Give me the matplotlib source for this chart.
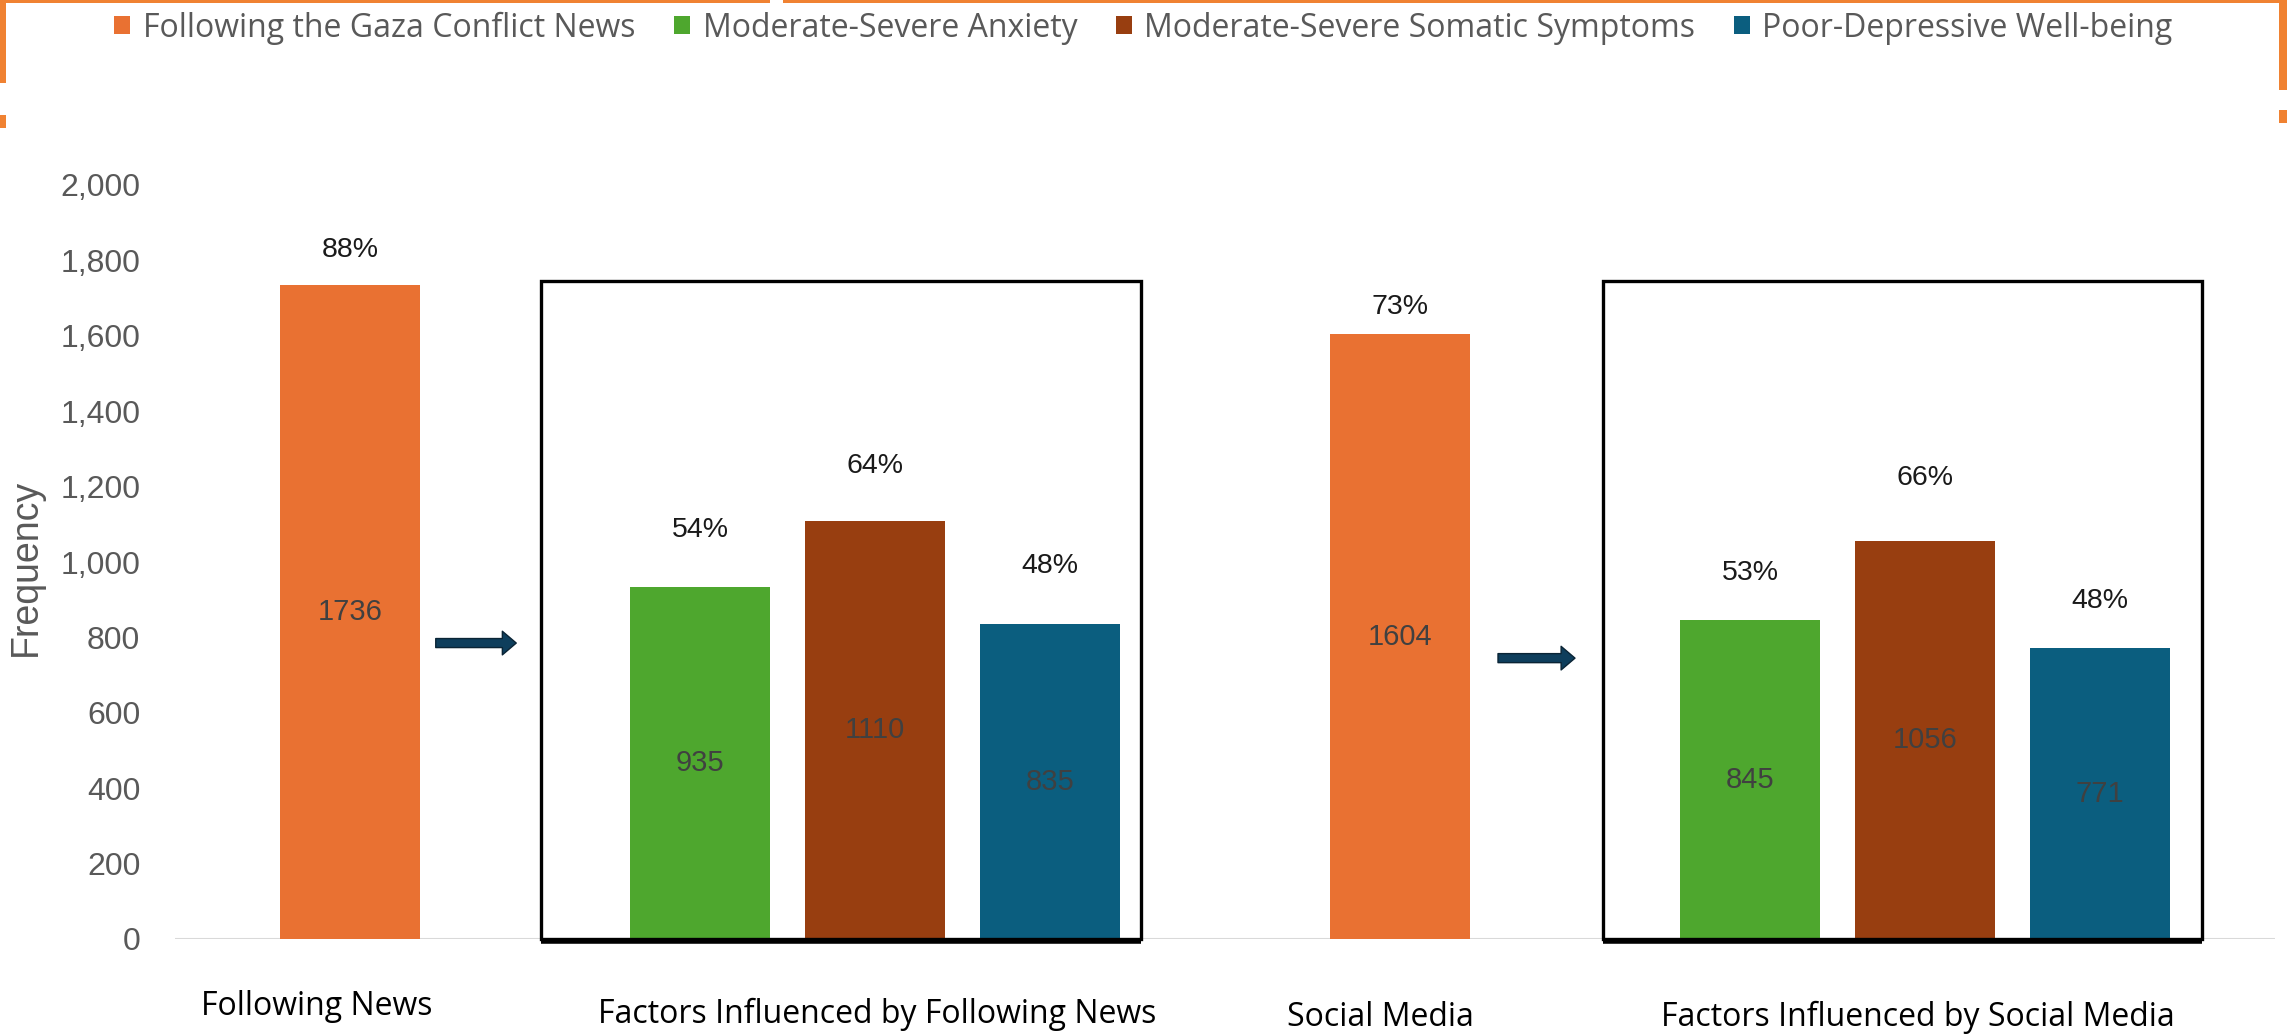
import matplotlib
matplotlib.use("Agg")
import matplotlib.pyplot as plt
from matplotlib.patches import Patch, Rectangle

# ---- data ----
categories = ["Following News", "Factors Influenced by Following News",
              "Social Media", "Factors Influenced by Social Media"]
series = ["Following the Gaza Conflict News", "Moderate-Severe Anxiety",
          "Moderate-Severe Somatic Symptoms", "Poor-Depressive Well-being"]
news_counts = [1736, 935, 1110, 835]
news_pct = ["88%", "54%", "64%", "48%"]
social_counts = [1604, 845, 1056, 771]
social_pct = ["73%", "53%", "66%", "48%"]
y_ticks = [0, 200, 400, 600, 800, 1000, 1200, 1400, 1600, 1800, 2000]

# ---- styling / layout ----
colors = ["#E97132", "#4EA72E", "#983E10", "#0B5E7F"]
group_start = [0, 6]            # slot where each source group begins
slot_in_group = [0, 2, 3, 4]    # slot of each series inside a group
pct_gap_pt = [[25, 41, 39, 42], [19.5, 34, 45, 34]]
box_span = [(1.09, 4.52), (7.16, 10.58)]
box_top = 1745
arrow_spec = [((0.49, 0.95), 785), ((6.56, 7.0), 745)]
cat_x = [-0.19, 3.01, 5.89, 8.96]
cat_y = [-0.09, -0.1, -0.104, -0.104]

SANS = ["Liberation Sans", "DejaVu Sans"]
HUM = ["Open Sans", "DejaVu Sans"]
GRAY = "#595959"

W, H, DPI = 2287, 1034, 100
fig = plt.figure(figsize=(W / DPI, H / DPI), dpi=DPI)
fig.patch.set_facecolor("white")

ax_left, ax_right, ax_bottom, ax_top = 175, 2275, 939, 185
ax = fig.add_axes([ax_left / W, (H - ax_bottom) / H,
                   (ax_right - ax_left) / W, (ax_bottom - ax_top) / H])
ax.set_xlim(-1, 11)
ax.set_ylim(0, 2000)

for counts, pcts, start, gaps in zip([news_counts, social_counts],
                                     [news_pct, social_pct],
                                     group_start, pct_gap_pt):
    xs = [start + s for s in slot_in_group]
    bars = ax.bar(xs, counts, width=0.8, color=colors, zorder=2)
    for bar, val, pct, gap in zip(bars, counts, pcts, gaps):
        cx = bar.get_x() + bar.get_width() / 2
        ax.text(cx, val / 2, f"{val}", ha="center", va="center",
                fontsize=21, color="#404040", family=SANS, zorder=3)
        ax.annotate(pct, xy=(cx, val), xytext=(0, gap),
                    textcoords="offset points", ha="center", va="center",
                    fontsize=20.5, color="#1a1a1a", family=SANS)

# baseline
ax.axhline(0, color="#D9D9D9", lw=2.2, zorder=1)

# frames around the influenced-factor groups
for (x0, x1) in box_span:
    ax.add_patch(Rectangle((x0, 0), x1 - x0, box_top, fill=False,
                           ec="black", lw=2.4, zorder=4, clip_on=False))
    ax.plot([x0, x1], [-6, -6], color="black", lw=4, zorder=4,
            clip_on=False, solid_capstyle="butt")

# arrows from source bar to influenced factors
for (xa, xb), yv in arrow_spec:
    ax.annotate("", xy=(xb, yv), xytext=(xa, yv),
                arrowprops=dict(arrowstyle="simple,head_length=10,head_width=17,tail_width=6.5",
                                mutation_scale=1, fc="#0E3E5C", ec="#0A2435",
                                lw=1.0, shrinkA=0, shrinkB=0))

# axes styling
for sp in ax.spines.values():
    sp.set_visible(False)
ax.set_xticks([])
ax.set_yticks(y_ticks)
ax.set_yticklabels([f"{v:,}" for v in y_ticks], family=SANS, fontsize=23,
                   color=GRAY)
ax.tick_params(axis="y", length=0, pad=25)
ax.set_ylabel("Frequency", family=SANS, fontsize=27, color=GRAY)
ax.yaxis.set_label_coords(-0.0624, 0.493)

# category labels under the chart
for label, x, y in zip(categories, cat_x, cat_y):
    ax.text(x, y, label, transform=ax.get_xaxis_transform(), ha="center",
            va="center", fontsize=23, color="black", family=HUM)

# legend
handles = [Patch(facecolor=c, edgecolor="none") for c in colors]
leg = fig.legend(handles, series, loc="center", bbox_to_anchor=(0.5, 0.973),
                 ncol=4, frameon=False, handlelength=0.5, handleheight=0.5,
                 handletextpad=0.4, columnspacing=1.2,
                 prop={"family": HUM, "size": 23})
for t in leg.get_texts():
    t.set_color(GRAY)

# orange frame pieces along the top edge
ORANGE = "#F08232"
def px_rect(x, y, w, h):
    fig.patches.append(Rectangle((x / W, 1 - (y + h) / H), w / W, h / H,
                                 transform=fig.transFigure, color=ORANGE,
                                 lw=0, figure=fig))
px_rect(0, 0, 770, 3)
px_rect(783, 0, W - 783, 3)
px_rect(0, 0, 6, 83)
px_rect(0, 115, 6, 13)
px_rect(W - 8, 0, 8, 90)
px_rect(W - 8, 110, 8, 13)

fig.savefig("out.png", dpi=DPI, facecolor="white")
